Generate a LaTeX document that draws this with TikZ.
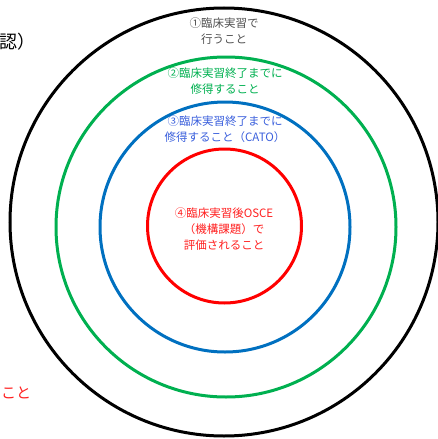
\documentclass[tikz,border=0pt]{standalone}
\usepackage{fontspec}
\setmainfont{Noto Sans CJK JP}
\definecolor{cblack}{HTML}{000000}
\definecolor{cgreen}{HTML}{00B050}
\definecolor{cblue}{HTML}{0070C0}
\definecolor{cred}{HTML}{FF0000}
\definecolor{tgray}{HTML}{505050}
\definecolor{tgreen}{HTML}{00B050}
\definecolor{tblue}{HTML}{3A5FDC}
\definecolor{tred}{HTML}{FF2020}
\begin{document}
\begin{tikzpicture}[x=1pt,y=-1pt,
  ring/.style={line width=3pt},
  lbl/.style={align=center,font=\fontsize{11.5}{16}\selectfont,inner sep=0pt}]
\useasboundingbox (0,0) rectangle (438,439);
\node[ring,draw=cblack,circle,minimum size=428pt,inner sep=0pt] (c1) at (224,222) {};
\node[ring,draw=cgreen,circle,minimum size=340pt,inner sep=0pt] (c2) at (226,227) {};
\node[ring,draw=cblue,circle,minimum size=250pt,inner sep=0pt] (c3) at (225,227) {};
\node[ring,draw=cred,circle,minimum size=154pt,inner sep=0pt] (c4) at (224.5,226) {};
\node[lbl,text=tgray] (t1) at (224,31) {①臨床実習で\\行うこと};
\node[lbl,text=tgreen] (t2) at (225,81) {②臨床実習終了までに\\修得すること};
\node[lbl,text=tblue] (t3) at (225,129) {③臨床実習終了までに\\修得すること（CATO）};
\node[lbl,text=tred] (t4) at (224,229) {④臨床実習後OSCE\\（機構課題）で\\評価されること};
\node[inner sep=0pt,anchor=west,font=\fontsize{18}{20}\selectfont] (t0) at (-1,42) {認）};
\node[inner sep=0pt,anchor=west,text=tred,font=\fontsize{15}{18}\selectfont] (t5) at (1,393) {こと};
\end{tikzpicture}
\end{document}
